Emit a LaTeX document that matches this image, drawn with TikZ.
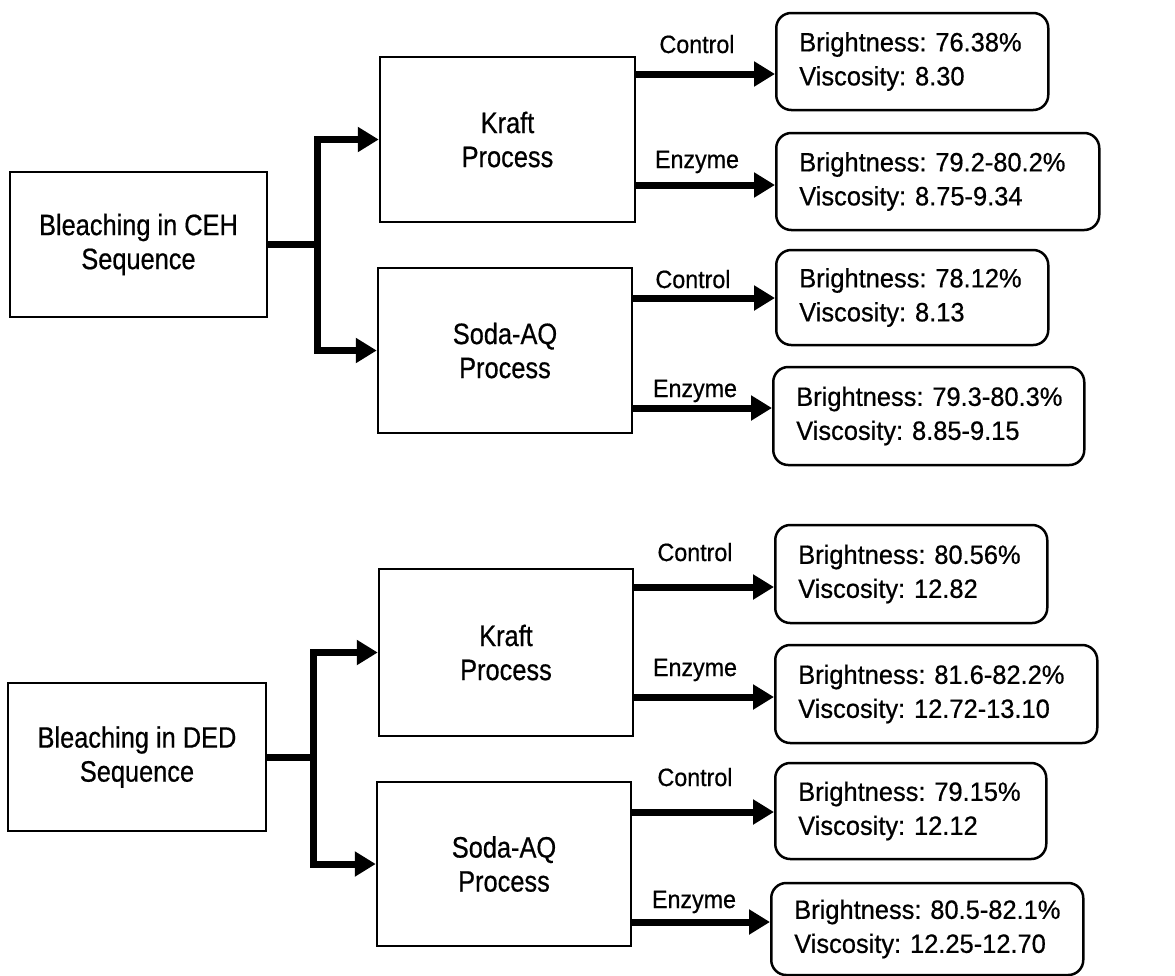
\documentclass[tikz,border=0pt]{standalone}
\usepackage{fontspec}
\setmainfont{Liberation Sans}
\newfontfamily\boxfont[FakeStretch=0.86,FakeBold=0.6]{Liberation Sans}
\newfontfamily\resfont[FakeStretch=0.96,FakeBold=0.6]{Liberation Sans}
\newfontfamily\labfont[FakeStretch=0.93,FakeBold=0.6]{Liberation Sans}
\usetikzlibrary{arrows.meta}
\newcommand{\rl}[2]{\mbox{#1}\\\mbox{#2}}
\begin{document}
\frenchspacing
\begin{tikzpicture}[x=1pt,y=-1pt,
  procbox/.style={draw, line width=2.5pt, align=center, font=\fontsize{29.5}{34}\selectfont\boxfont, inner sep=0pt},
  resbox/.style={draw, line width=2.5pt, rounded corners=15pt, anchor=west, align=left, inner xsep=23pt, inner ysep=0pt, font=\fontsize{26.5}{34}\selectfont\resfont\frenchspacing},
  lab/.style={anchor=base, font=\fontsize{25}{30}\selectfont\labfont, inner sep=0pt},
  conn/.style={line width=7pt, line join=miter},
  arr/.style={conn, -{Triangle[length=21pt,width=24pt]}}]
\useasboundingbox (0,0) rectangle (1175,975);

% ---------- top group ----------
\node[procbox, minimum width=257pt, minimum height=145pt] (ceh) at (138.5,244.5) {Bleaching in CEH\\Sequence};
\node[procbox, minimum width=255pt, minimum height=165pt] (kraftA) at (507.5,139.5) {Kraft\\Process};
\node[procbox, minimum width=254pt, minimum height=165pt] (sodaA) at (505,350.5) {Soda-AQ\\Process};

\node[resbox, text width=226pt, minimum height=97pt] (rA1) at (775,61.5) {\rl{Brightness: 76.38\%}{Viscosity: 8.30}};
\node[resbox, text width=277pt, minimum height=97pt] (rA2) at (775,181.5) {\rl{Brightness: 79.2-80.2\%}{Viscosity: 8.75-9.34}};
\node[resbox, text width=226pt, minimum height=95pt] (rA3) at (775,297.5) {\rl{Brightness: 78.12\%}{Viscosity: 8.13}};
\node[resbox, text width=265pt, minimum height=98pt] (rA4) at (772,416) {\rl{Brightness: 79.3-80.3\%}{Viscosity: 8.85-9.15}};

\coordinate (jA) at (317,244.5);
\draw[conn] (ceh.east) -- (jA);
\draw[arr] (jA) |- (kraftA.west);
\draw[arr] (jA) |- (sodaA.west);

\coordinate (yA1) at (0,74);
\coordinate (yA2) at (0,185);
\coordinate (yA3) at (0,298);
\coordinate (yA4) at (0,408);
\draw[arr] (kraftA.east |- yA1) -- (rA1.west |- yA1);
\draw[arr] (kraftA.east |- yA2) -- (rA2.west |- yA2);
\draw[arr] (sodaA.east |- yA3) -- (rA3.west |- yA3);
\draw[arr] (sodaA.east |- yA4) -- (rA4.west |- yA4);

\node[lab] (lA1) at (697,53) {Control};
\node[lab] (lA2) at (697,168) {Enzyme};
\node[lab] (lA3) at (693,288) {Control};
\node[lab] (lA4) at (695,397) {Enzyme};

% ---------- bottom group ----------
\node[procbox, minimum width=258pt, minimum height=148pt] (ded) at (137,757) {Bleaching in DED\\Sequence};
\node[procbox, minimum width=254pt, minimum height=167pt] (kraftB) at (506,652.5) {Kraft\\Process};
\node[procbox, minimum width=254pt, minimum height=164pt] (sodaB) at (504,864) {Soda-AQ\\Process};

\node[resbox, text width=226pt, minimum height=98pt] (rB1) at (774,574) {\rl{Brightness: 80.56\%}{Viscosity: 12.82}};
\node[resbox, text width=276pt, minimum height=98pt] (rB2) at (774,694) {\rl{Brightness: 81.6-82.2\%}{Viscosity: 12.72-13.10}};
\node[resbox, text width=225pt, minimum height=96pt] (rB3) at (774,811) {\rl{Brightness: 79.15\%}{Viscosity: 12.12}};
\node[resbox, text width=266pt, minimum height=92pt] (rB4) at (770,929) {\rl{Brightness: 80.5-82.1\%}{Viscosity: 12.25-12.70}};

\coordinate (jB) at (313,757);
\draw[conn] (ded.east) -- (jB);
\draw[arr] (jB) |- (kraftB.west);
\draw[arr] (jB) |- (sodaB.west);

\coordinate (yB1) at (0,587);
\coordinate (yB2) at (0,697);
\coordinate (yB3) at (0,812);
\coordinate (yB4) at (0,922);
\draw[arr] (kraftB.east |- yB1) -- (rB1.west |- yB1);
\draw[arr] (kraftB.east |- yB2) -- (rB2.west |- yB2);
\draw[arr] (sodaB.east |- yB3) -- (rB3.west |- yB3);
\draw[arr] (sodaB.east |- yB4) -- (rB4.west |- yB4);

\node[lab] (lB1) at (695,561) {Control};
\node[lab] (lB2) at (695,676) {Enzyme};
\node[lab] (lB3) at (695,786) {Control};
\node[lab] (lB4) at (694,908) {Enzyme};
\end{tikzpicture}
\end{document}
